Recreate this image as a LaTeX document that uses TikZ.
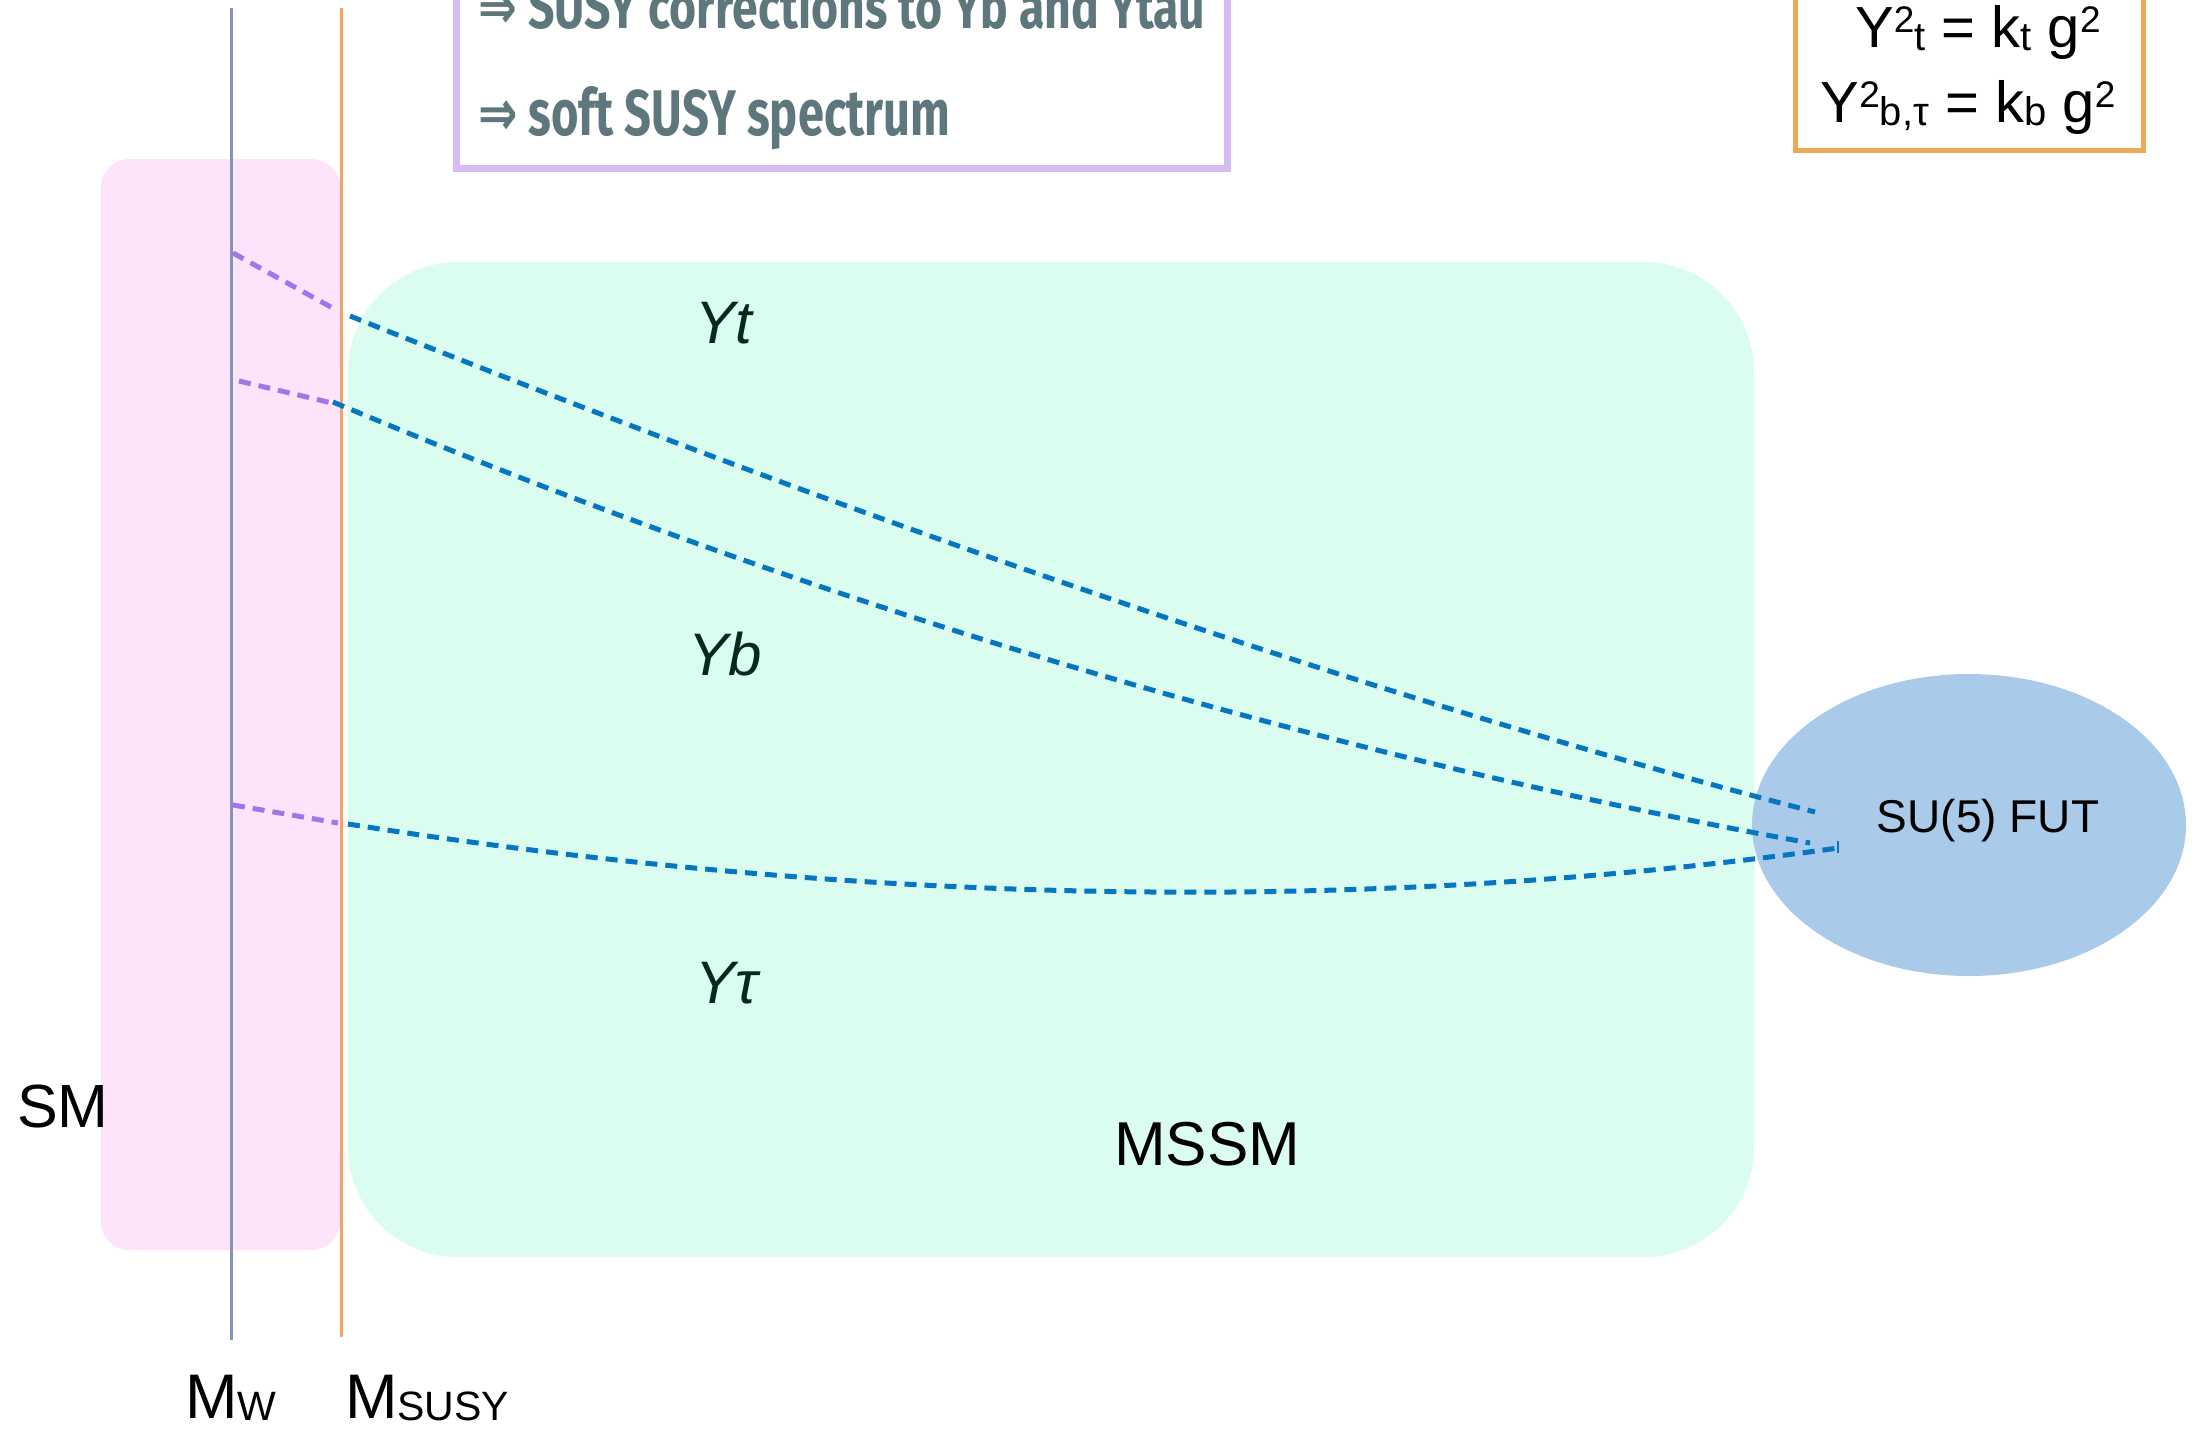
\documentclass[tikz,border=0pt]{standalone}
\usepackage{fontspec}
\usepackage{graphicx}
\setmainfont{Liberation Sans}
\newfontfamily\notefont{Fira Sans}
\newfontfamily\arrowfont{DejaVu Sans}
\usetikzlibrary{shapes.geometric}
\definecolor{pinkfill}{HTML}{FEE4FA}
\definecolor{greenfill}{HTML}{DBFDF0}
\definecolor{futfill}{HTML}{A9CAE8}
\definecolor{purpleline}{HTML}{A276EA}
\definecolor{blueline}{HTML}{0676C0}
\definecolor{mwline}{HTML}{8791BE}
\definecolor{susyline}{HTML}{F2A468}
\definecolor{notebox}{HTML}{D6BCF2}
\definecolor{notetext}{HTML}{5E777D}
\definecolor{eqbox}{HTML}{EFA858}
\definecolor{ylabel}{HTML}{06291C}
\newcommand{\fsup}[1]{\raisebox{15pt}{\fontsize{37}{40}\selectfont #1}}
\newcommand{\fsub}[1]{\raisebox{-3pt}{\fontsize{40}{42}\selectfont #1}}
\begin{document}
\begin{tikzpicture}[x=1pt,y=-1pt,
  region/.style={inner sep=0pt, outer sep=0pt},
  lbl/.style={font=\fontsize{61}{66}\selectfont, inner sep=0pt, anchor=base},
  ylbl/.style={font=\fontsize{60}{66}\selectfont\itshape, text=ylabel, inner sep=0pt, anchor=base},
  eqline/.style={font=\fontsize{58}{62}\selectfont, inner sep=0pt, anchor=base},
  noteline/.style={text=notetext, inner sep=0pt, anchor=base west},
  scaleline/.style={line width=3pt},
  oldrun/.style={purpleline, line width=5pt, dash pattern=on 12pt off 8pt},
  newrun/.style={blueline, line width=5pt, dash pattern=on 12pt off 8pt}]
\useasboundingbox (0,0) rectangle (2200,1428);
\clip (0,0) rectangle (2200,1428);

% regions
\node[region, fill=pinkfill, rounded corners=28pt, minimum width=239pt, minimum height=1091pt, anchor=north west] (sm) at (101,159) {};
\node[region, fill=greenfill, rounded corners=110pt, minimum width=1406pt, minimum height=995pt, anchor=north west] (mssm) at (348,262) {};
\node[region, ellipse, fill=futfill, minimum width=434pt, minimum height=302pt] (fut) at (1969,825) {};

% scale lines
\coordinate (mwtop) at (231,8);
\coordinate (mwbot) at (231,1340);
\coordinate (susytop) at (341,8);
\coordinate (susybot) at (341,1337);
\draw[scaleline, mwline] (mwtop) -- (mwbot);
\draw[scaleline, susyline] (susytop) -- (susybot);

% running couplings
\coordinate (ta) at (233,253);
\coordinate (tb) at (338,311);
\coordinate (tc) at (350,316);
\coordinate (td) at (1815,812);
\coordinate (ba) at (239,381);
\coordinate (bb) at (332,403);
\coordinate (bc) at (333,402);
\coordinate (bd) at (1810,843);
\coordinate (ua) at (233,805);
\coordinate (ub) at (338,823);
\coordinate (uc) at (348,824);
\coordinate (ud) at (1838,848);
\draw[oldrun] (ta) -- (tb);
\draw[oldrun] (ba) -- (bb);
\draw[oldrun] (ua) -- (ub);
\draw[newrun] (tc) .. controls (898,535) and (1386,701) .. (td);
\draw[newrun] (bc) .. controls (820,606) and (1312,753) .. (bd);
\draw[newrun] (uc) .. controls (868,906) and (1365,914) .. (ud);
\draw[blueline, line width=2pt] (1838,841) -- (1838,853);

% labels
\node[region, font=\fontsize{46}{50}\selectfont, anchor=base] (futlbl) at (1988,832) {SU(5) FUT};
\node[ylbl] (ytlbl) at (724,343) {Yt};
\node[ylbl] (yblbl) at (725,675) {Yb};
\node[ylbl] (ytaulbl) at (727,1003) {Yτ};
\node[lbl] (smlbl) at (63,1127) {SM};
\node[lbl, font=\fontsize{62}{66}\selectfont] (mssmlbl) at (1207,1165) {MSSM};
\node[region, anchor=base west] (mwlbl) at (185,1418) {\fontsize{63}{66}\selectfont M\raisebox{-2pt}{\fontsize{41}{44}\selectfont W}};
\node[region, anchor=base west] (msusylbl) at (345,1418) {\fontsize{63}{66}\selectfont M\raisebox{-2pt}{\fontsize{41}{44}\selectfont SUSY}};

% note box
\node[draw=notebox, line width=7pt, inner sep=0pt, outer sep=0pt, minimum width=771pt, minimum height=208pt, anchor=south west] (note) at (456,168) {};
\node[noteline] (note1) at (478,28) {\resizebox{727pt}{49pt}{\arrowfont\bfseries ⇒\notefont\bfseries\ SUSY corrections to Yb and Ytau}};
\node[noteline] (note2) at (478,135) {\resizebox{472pt}{49pt}{\arrowfont\bfseries ⇒\notefont\bfseries\ soft SUSY spectrum}};

% equation box
\node[draw=eqbox, line width=5pt, inner sep=0pt, outer sep=0pt, minimum width=348pt, minimum height=200pt, anchor=south west] (eq) at (1795,150) {};
\node[eqline] (eq1) at (1978,47) {Y\fsup{2}\fsub{t} = k\fsub{t} g\fsup{2}};
\node[eqline] (eq2) at (1968,122) {Y\fsup{2}\fsub{b,τ} = k\fsub{b} g\fsup{2}};
\end{tikzpicture}
\end{document}
